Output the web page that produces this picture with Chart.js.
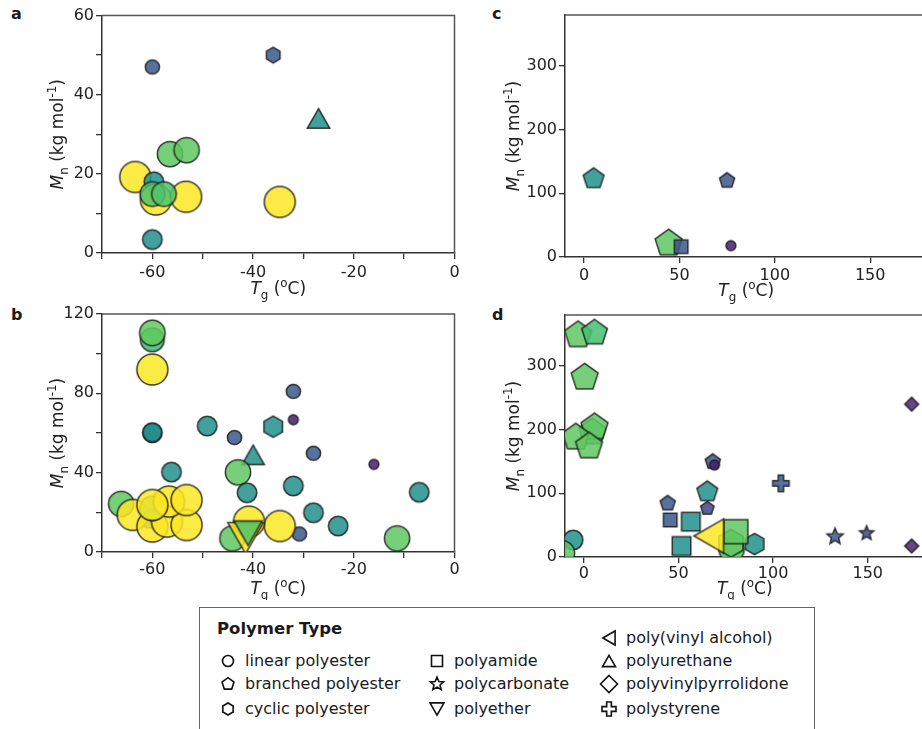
<!DOCTYPE html>
<html>
<head>
<meta charset="utf-8">
<script src="https://cdn.jsdelivr.net/npm/chart.js@4"></script>
<style>
  html, body { margin: 0; padding: 0; background: #fff; }
  body { width: 922px; height: 729px; overflow: hidden; position: relative;
         font-family: "DejaVu Sans", Verdana, sans-serif; color: #1a1a1a; }
  canvas.panel { position: absolute; }
  .tag { position: absolute; font-weight: bold; font-size: 16px; line-height: 20px; }
  #legend { position: absolute; left: 199px; top: 607px; width: 616px; height: 140px;
            border: 1px solid #666; box-sizing: border-box; }
  #legend .ttl { position: absolute; left: 17px; top: 11px; font-weight: bold; font-size: 16.5px; line-height: 20px; }
  .lg { position: absolute; font-size: 16px; line-height: 20px; white-space: nowrap; }
  .lg canvas { position: absolute; top: 0; }
</style>
</head>
<body>
<div class="tag" style="left:11px;top:4px">a</div>
<div class="tag" style="left:11px;top:305px">b</div>
<div class="tag" style="left:492px;top:4px">c</div>
<div class="tag" style="left:492px;top:305px">d</div>

<canvas id="pa" class="panel" width="470" height="305" style="left:0;top:0"></canvas>
<canvas id="pb" class="panel" width="470" height="310" style="left:0;top:290px"></canvas>
<canvas id="pc" class="panel" width="470" height="305" style="left:470px;top:0"></canvas>
<canvas id="pd" class="panel" width="470" height="310" style="left:470px;top:290px"></canvas>

<div id="legend"><div class="ttl">Polymer Type</div></div>

<script>
/* DATA */
// panel a
const aTg   = [-60, -36, -27, -56.5, -53.2, -63.4, -59.7, -59.3, -53.3, -34.7, -60, -57.7, -60];
const aMn   = [47, 50, 34, 25, 26, 19.2, 18, 13.5, 14.2, 12.9, 14.9, 14.9, 3.4];
const aType = ['linear', 'cyclic', 'urethane', 'linear', 'linear', 'linear', 'linear', 'linear',
               'linear', 'linear', 'linear', 'linear', 'linear'];
const aC    = [0.27, 0.27, 0.5, 0.75, 0.75, 1, 0.5, 1, 1, 1, 0.72, 0.72, 0.5];

// panel b
const bTg   = [-60, -60, -60, -60, -60, -49.1, -43.7, -36, -32, -32, -40, -28, -16, -56.2, -43, -41.2,
               -32, -7, -28, -23.1, -30.8, -11.4, -34.7, -60.6, -66.2, -63.9, -60, -57.1, -53.2, -60,
               -56.7, -60, -53.2, -44.1, -40.8, -41.5, -41];
const bMn   = [107, 110.5, 92, 60, 60.3, 63.5, 57.7, 63.2, 81, 66.7, 49, 49.8, 44.2, 40.3, 40.2, 29.9,
               33.3, 30.1, 19.8, 13.1, 9.1, 6.9, 13.1, 17, 24.3, 18.7, 12.8, 15.3, 13.6, 22,
               25.4, 23.7, 26.2, 6.9, 15.3, 7, 9.5];
const bType = ['linear', 'linear', 'linear', 'linear', 'linear', 'linear', 'linear', 'cyclic',
               'linear', 'linear', 'urethane', 'linear', 'linear', 'linear', 'linear', 'linear',
               'linear', 'linear', 'linear', 'linear', 'linear', 'linear', 'linear', 'linear',
               'linear', 'linear', 'linear', 'linear', 'linear', 'linear', 'linear', 'linear',
               'linear', 'linear', 'linear', 'ether', 'ether'];
const bC    = [0.68, 0.76, 1, 0.48, 0.48, 0.5, 0.27, 0.5, 0.27, 0.08, 0.5, 0.27, 0.08, 0.5, 0.75, 0.5,
               0.5, 0.5, 0.5, 0.5, 0.27, 0.75, 1, 0.5, 0.75, 1, 1, 1, 1, 0.72,
               1, 1, 1, 0.75, 1, 1, 0.72];

// panel c
const cTg   = [5, 75, 44.3, 50.9, 77];
const cMn   = [123, 120, 21.5, 16.2, 17.8];
const cType = ['branched', 'branched', 'branched', 'amide', 'linear'];
const cC    = [0.5, 0.27, 0.75, 0.27, 0.08];

// panel d
const dTg   = [-3.1, 5.6, 0.4, 4.5, 5.6, -4.3, 2.7, -5.7, -11.6, 44.3, 45.6, 56.5, 51.6, 65.2, 65.2,
               68.1, 69, 78, 77.7, 90.2, 80.3, 66, 104.1, 132.7, 149.4, 173.2, 173.2];
const dMn   = [348.5, 352, 282, 196, 204, 188, 174, 26.7, 6, 84.3, 58.1, 55.5, 17.3, 102.5, 76.4,
               149.6, 144.4, 12, 21.5, 20.4, 39.8, 33, 115.7, 31.9, 37.2, 240, 17.3];
const dType = ['branched', 'branched', 'branched', 'branched', 'branched', 'branched', 'branched',
               'linear', 'linear', 'branched', 'amide', 'amide', 'amide', 'branched', 'branched',
               'branched', 'linear', 'linear', 'cyclic', 'cyclic', 'amide', 'pva', 'styrene',
               'carbonate', 'carbonate', 'pvp', 'pvp'];
const dC    = [0.75, 0.7, 0.75, 0.75, 0.75, 0.75, 0.75, 0.5, 0.75, 0.27, 0.27, 0.5, 0.5, 0.5, 0.2,
               0.27, 0.08, 0.75, 0.75, 0.5, 0.75, 1, 0.27, 0.27, 0.2, 0.1, 0.1];

// tick labels
const lowXLabels  = [-60, -40, -20, 0];
const aYLabels    = [0, 20, 40, 60];
const bYLabels    = [0, 40, 80, 120];
const highXLabels = [0, 50, 100, 150];
const highYLabels = [0, 100, 200, 300];

// legend
const legendTypes  = ['linear', 'branched', 'cyclic', 'amide', 'carbonate', 'ether',
                      'pva', 'urethane', 'pvp', 'styrene'];
const legendLabels = ['linear polyester', 'branched polyester', 'cyclic polyester', 'polyamide',
                      'polycarbonate', 'polyether', 'poly(vinyl alcohol)', 'polyurethane',
                      'polyvinylpyrrolidone', 'polystyrene'];

/* MARKERS */
const FONT = '"DejaVu Sans", Verdana, sans-serif';
const SHAPE = { linear: 'circle', branched: 'pentagon', cyclic: 'hexagon', amide: 'square',
                carbonate: 'star', ether: 'triDown', pva: 'triLeft', urethane: 'triUp',
                pvp: 'diamond', styrene: 'plus' };
const SCALE = { circle: 1, pentagon: 1.12, hexagon: 1.1, square: 0.95, star: 1.2, triDown: 1.15,
                triLeft: 1.1, triUp: 1.15, diamond: 1.35, plus: 1.15 };
const VIRIDIS = ['#440154', '#482475', '#414487', '#355f8d', '#2a788e', '#21918c',
                 '#22a884', '#44bf70', '#7ad151', '#bddf26', '#fde725'];

function viridis(v, alpha) {
  const p = Math.min(Math.max(v, 0), 1) * 10;
  const i = Math.min(Math.floor(p), 9), f = p - i;
  const c0 = VIRIDIS[i], c1 = VIRIDIS[i + 1];
  const ch = (c, k) => parseInt(c.substr(1 + 2 * k, 2), 16);
  const mix = k => Math.round(ch(c0, k) + (ch(c1, k) - ch(c0, k)) * f);
  return 'rgba(' + mix(0) + ',' + mix(1) + ',' + mix(2) + ',' + alpha + ')';
}

function radiusOf(v) { return 4 + 11.5 * v; }

function tracePath(g, shape, r) {
  g.beginPath();
  const poly = (n, rr, start) => {
    for (let k = 0; k < n; k++) {
      const t = start + k * 2 * Math.PI / n;
      k ? g.lineTo(rr * Math.cos(t), rr * Math.sin(t)) : g.moveTo(rr * Math.cos(t), rr * Math.sin(t));
    }
    g.closePath();
  };
  const h = 0.87 * r;
  switch (shape) {
    case 'circle': g.arc(0, 0, r, 0, Math.PI * 2); break;
    case 'pentagon': poly(5, r, -Math.PI / 2); break;
    case 'hexagon': poly(6, r, -Math.PI / 2); break;
    case 'diamond': poly(4, r, -Math.PI / 2); break;
    case 'square': g.rect(-r, -r, 2 * r, 2 * r); break;
    case 'triUp': g.moveTo(0, -h); g.lineTo(r, h); g.lineTo(-r, h); g.closePath(); break;
    case 'triDown': g.moveTo(0, h); g.lineTo(r, -h); g.lineTo(-r, -h); g.closePath(); break;
    case 'triLeft': g.moveTo(-h, 0); g.lineTo(h, -r); g.lineTo(h, r); g.closePath(); break;
    case 'star':
      for (let k = 0; k < 10; k++) {
        const rr = k % 2 ? r * 0.45 : r, t = -Math.PI / 2 + k * Math.PI / 5;
        k ? g.lineTo(rr * Math.cos(t), rr * Math.sin(t)) : g.moveTo(rr * Math.cos(t), rr * Math.sin(t));
      }
      g.closePath(); break;
    case 'plus': {
      const a = r / 3;
      const pts = [[-a, -r], [a, -r], [a, -a], [r, -a], [r, a], [a, a], [a, r], [-a, r], [-a, a], [-r, a], [-r, -a], [-a, -a]];
      pts.forEach((q, k) => k ? g.lineTo(q[0], q[1]) : g.moveTo(q[0], q[1]));
      g.closePath(); break;
    }
  }
}

const cache = {};
function marker(type, v) {
  const shape = SHAPE[type];
  const key = shape + '|' + v;
  if (cache[key]) return cache[key];
  const r = radiusOf(v) * SCALE[shape];
  const cv = document.createElement('canvas');
  const size = Math.ceil(2 * r + 4);
  cv.width = cv.height = size;
  const g = cv.getContext('2d');
  g.translate(size / 2, size / 2);
  tracePath(g, shape, r);
  g.fillStyle = viridis(v, 0.85);
  g.fill();
  g.lineWidth = 1.5;
  g.strokeStyle = 'rgba(25,25,25,0.85)';
  g.stroke();
  cache[key] = cv;
  return cv;
}

/* AXIS TITLES (sub/superscripts) */
const xTitle = [{ t: 'T', i: 1 }, { t: 'g', sub: 1 }, { t: ' (' }, { t: 'o', sup: 1 }, { t: 'C)' }];
const yTitle = [{ t: 'M', i: 1 }, { t: 'n', sub: 1 }, { t: ' (kg mol' }, { t: '-1', sup: 1 }, { t: ')' }];

function drawRich(ctx, parts, cx, cy, rot) {
  const fs = 17;
  const fontOf = p => (p.i ? 'italic ' : '') + ((p.sub || p.sup) ? fs * 0.7 : fs) + 'px ' + FONT;
  ctx.save();
  let w = 0;
  const widths = parts.map(p => { ctx.font = fontOf(p); const m = ctx.measureText(p.t).width; w += m; return m; });
  ctx.translate(cx, cy);
  ctx.rotate(rot);
  ctx.fillStyle = '#222';
  ctx.textBaseline = 'alphabetic';
  ctx.textAlign = 'left';
  let x = -w / 2;
  parts.forEach((p, k) => {
    ctx.font = fontOf(p);
    const dy = p.sub ? fs * 0.3 : p.sup ? -fs * 0.42 : 0;
    ctx.fillText(p.t, x, fs * 0.36 + dy);
    x += widths[k];
  });
  ctx.restore();
}

const framePlugin = {
  id: 'frame',
  afterDraw(chart, args, opts) {
    const { ctx, chartArea: a } = chart;
    ctx.save();
    ctx.strokeStyle = '#555';
    ctx.lineWidth = 1.5;
    ctx.beginPath();
    ctx.moveTo(a.left, a.top); ctx.lineTo(a.right, a.top); ctx.lineTo(a.right, a.bottom);
    ctx.stroke();
    ctx.restore();
    drawRich(ctx, xTitle, (a.left + a.right) / 2, a.bottom + opts.xOff, 0);
    drawRich(ctx, yTitle, opts.yX, (a.top + a.bottom) / 2, -Math.PI / 2);
  }
};

/* PANELS */
function makePanel(id, p) {
  const pts = p.tg.map((t, i) => ({ x: t, y: p.mn[i] }));
  const axis = (cfg) => ({
    type: 'linear',
    min: cfg.min, max: cfg.max,
    afterFit: cfg.fit,
    afterBuildTicks: cfg.fixed ? (s => { s.ticks = cfg.fixed.map(v => ({ value: v })); }) : undefined,
    ticks: {
      stepSize: cfg.step, autoSkip: false, maxRotation: 0, padding: cfg.pad,
      color: '#222', font: { family: FONT, size: 16 },
      callback: v => cfg.labels.includes(v) ? String(v) : ''
    },
    grid: { drawOnChartArea: false, drawTicks: true, tickLength: 6, color: '#333', lineWidth: 1.3 },
    border: { display: true, color: '#333', width: 1.5 }
  });
  return new Chart(document.getElementById(id), {
    type: 'scatter',
    data: {
      datasets: [{
        data: pts,
        clip: 0,
        pointStyle: c => marker(p.type[c.dataIndex], p.c[c.dataIndex]),
        pointRadius: c => radiusOf(p.c[c.dataIndex]),
        pointBorderWidth: 0
      }]
    },
    options: {
      responsive: false,
      animation: false,
      events: [],
      layout: { padding: p.padding },
      plugins: { legend: { display: false }, tooltip: { enabled: false },
                 frame: { xOff: p.xOff, yX: p.yX } },
      scales: {
        x: axis({ min: p.xMin, max: p.xMax, step: p.xStep, fixed: p.xFixed, labels: p.xLabels,
                  pad: p.xPad, fit: s => { s.height = p.xh; } }),
        y: axis({ min: 0, max: p.yMax, step: p.yStep, fixed: p.yFixed, labels: p.yLabels,
                  pad: 2, fit: s => { s.width = p.yw; } })
      }
    },
    plugins: [framePlugin]
  });
}

makePanel('pa', { tg: aTg, mn: aMn, type: aType, c: aC,
  xMin: -70, xMax: 0, xStep: 10, xLabels: lowXLabels, yMax: 60, yStep: 10, yLabels: aYLabels,
  padding: { top: 15, right: 9, left: 0, bottom: 0 }, yw: 102, xh: 52, xPad: 4, xOff: 35, yX: 57 });

makePanel('pb', { tg: bTg, mn: bMn, type: bType, c: bC,
  xMin: -70, xMax: 0, xStep: 10, xLabels: lowXLabels, yMax: 120, yStep: 20, yLabels: bYLabels,
  padding: { top: 24, right: 9, left: 0, bottom: 0 }, yw: 102, xh: 48, xPad: 2, xOff: 36, yX: 57 });

makePanel('pc', { tg: cTg, mn: cMn, type: cType, c: cC,
  xMin: -10, xMax: 180, xFixed: highXLabels, xLabels: highXLabels,
  yMax: 380, yFixed: highYLabels, yLabels: highYLabels,
  padding: { top: 15, right: 10, left: 0, bottom: 0 }, yw: 95, xh: 48, xPad: 3, xOff: 33, yX: 43 });

makePanel('pd', { tg: dTg, mn: dMn, type: dType, c: dC,
  xMin: -10, xMax: 180, xFixed: highXLabels, xLabels: highXLabels,
  yMax: 380, yFixed: highYLabels, yLabels: highYLabels,
  padding: { top: 25, right: 10, left: 0, bottom: 0 }, yw: 95, xh: 43, xPad: 1, xOff: 31, yX: 43 });

/* LEGEND */
const LEG_R = { circle: 5.5, pentagon: 6.3, hexagon: 6, square: 5.5, star: 7, triDown: 7,
                triLeft: 7, triUp: 6.5, diamond: 8.5, plus: 7 };
const legendSlots = [[28, 53], [28, 76], [28, 101], [237, 53], [237, 76], [237, 101],
                     [409, 30], [409, 53], [409, 76], [409, 101]];
const legendBox = document.getElementById('legend');
legendTypes.forEach((t, i) => {
  const [sx, sy] = legendSlots[i];
  const item = document.createElement('div');
  item.className = 'lg';
  item.style.left = (sx + 17) + 'px';
  item.style.top = (sy - 10) + 'px';
  item.textContent = legendLabels[i];
  const cv = document.createElement('canvas');
  cv.width = 20; cv.height = 20;
  cv.style.left = '-27px';
  const g = cv.getContext('2d');
  g.translate(10, 10);
  tracePath(g, SHAPE[t], LEG_R[SHAPE[t]]);
  g.lineWidth = 1.6;
  g.strokeStyle = '#111';
  g.stroke();
  item.appendChild(cv);
  legendBox.appendChild(item);
});
</script>
</body>
</html>
